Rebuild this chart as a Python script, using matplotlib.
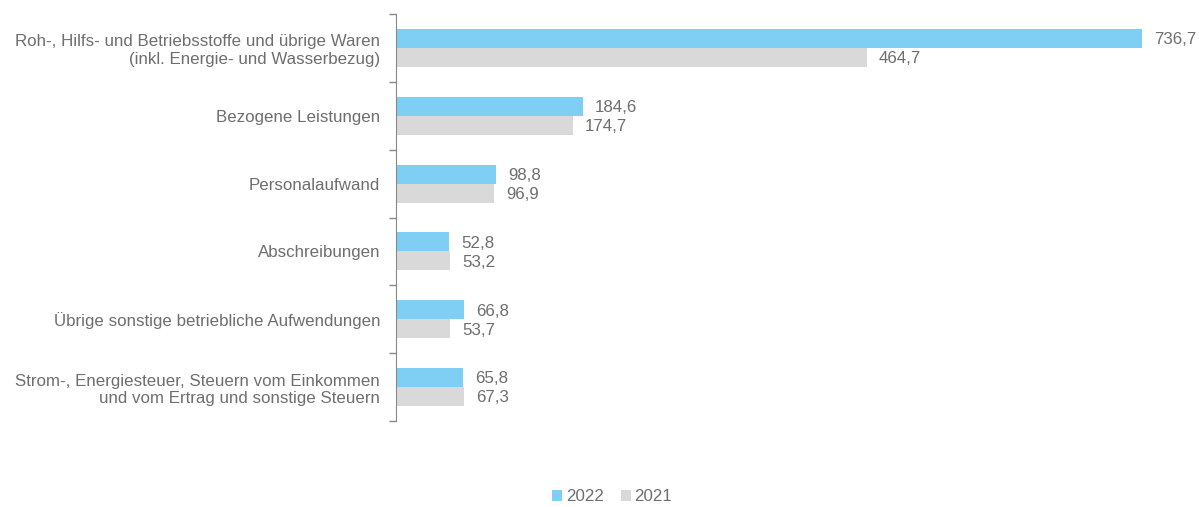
import matplotlib.pyplot as plt
import numpy as np

plt.rcParams['font.family'] = ['Liberation Sans', 'DejaVu Sans']

categories = ['Roh-, Hilfs- und Betriebsstoffe und übrige Waren\n(inkl. Energie- und Wasserbezug)',
              'Bezogene Leistungen',
              'Personalaufwand',
              'Abschreibungen',
              'Übrige sonstige betriebliche Aufwendungen',
              'Strom-, Energiesteuer, Steuern vom Einkommen\nund vom Ertrag und sonstige Steuern']
vals_2022 = [736.7, 184.6, 98.8, 52.8, 66.8, 65.8]
vals_2021 = [464.7, 174.7, 96.9, 53.2, 53.7, 67.3]

blue = '#7fcff5'
grey = '#d9d9d9'
txt = '#6e6e6e'
fs = 12.2

fig = plt.figure(figsize=(11.99, 5.07), dpi=100)
ax = fig.add_axes([396/1199, 1-421/507, (1160-396)/1199, (421-14)/507])

y = np.arange(len(categories))
h = 0.28
ax.barh(y - h/2, vals_2022, height=h, color=blue, label='2022')
ax.barh(y + h/2, vals_2021, height=h, color=grey, label='2021')

for yi, v in zip(y, vals_2022):
    ax.text(v + 12, yi - h/2 + 0.02, ('%.1f' % v).replace('.', ','), va='center', ha='left',
            fontsize=fs, color=txt)
for yi, v in zip(y, vals_2021):
    ax.text(v + 12, yi + h/2 + 0.02, ('%.1f' % v).replace('.', ','), va='center', ha='left',
            fontsize=fs, color=txt)

ax.set_ylim(len(categories) - 0.5, -0.5)
ax.set_xlim(0, (1160-396)/1.0127)
ax.set_yticks(y)
ax.set_yticklabels(categories, fontsize=fs, color=txt, ha='right', multialignment='right')
ax.tick_params(axis='y', length=0, pad=11.5)
ax.set_yticks(np.arange(len(categories) + 1) - 0.5, minor=True)
ax.tick_params(axis='y', which='minor', length=5, color='#888888', width=1)
ax.set_xticks([])
for s in ['top', 'right', 'bottom']:
    ax.spines[s].set_visible(False)
ax.spines['left'].set_color('#888888')

fig.legend(loc='lower center', bbox_to_anchor=(612/1199, -0.025), ncol=2, frameon=False,
           fontsize=fs, handlelength=0.6, handleheight=0.6, handletextpad=0.2,
           columnspacing=1.0, labelcolor=txt)

fig.savefig('out.png', dpi=100)
